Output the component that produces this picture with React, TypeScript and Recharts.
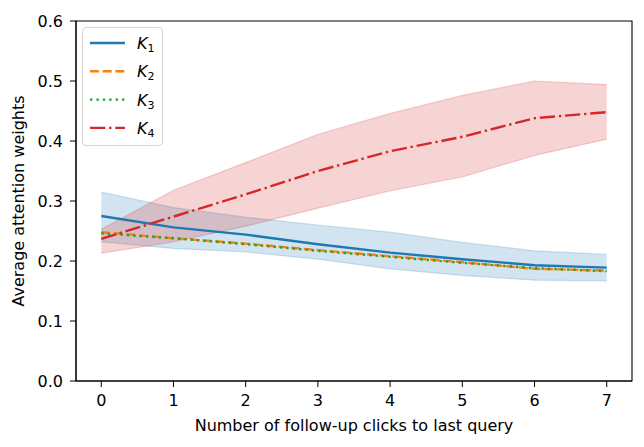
import React from "react";
import {
  ComposedChart,
  Line,
  Area,
  XAxis,
  YAxis,
  ReferenceArea,
  Label,
} from "recharts";

const clicks = [0, 1, 2, 3, 4, 5, 6, 7];
const yTicks = [0, 0.1, 0.2, 0.3, 0.4, 0.5, 0.6];

const k1Mean = [0.275, 0.256, 0.244, 0.228, 0.214, 0.203, 0.193, 0.189];
const k1Low = [0.232, 0.221, 0.215, 0.203, 0.187, 0.176, 0.168, 0.167];
const k1High = [0.315, 0.289, 0.273, 0.26, 0.248, 0.231, 0.217, 0.211];
const k2Mean = [0.248, 0.238, 0.229, 0.218, 0.208, 0.198, 0.187, 0.184];
const k3Mean = [0.246, 0.238, 0.228, 0.217, 0.207, 0.197, 0.188, 0.183];
const k4Mean = [0.237, 0.274, 0.311, 0.35, 0.383, 0.407, 0.438, 0.448];
const k4Low = [0.213, 0.232, 0.258, 0.288, 0.317, 0.34, 0.376, 0.403];
const k4High = [0.253, 0.318, 0.364, 0.411, 0.446, 0.476, 0.5, 0.494];

const FONT = "'DejaVu Sans', sans-serif";
const FS = 16;
const LW = 2.4;
const BLUE = "#1f77b4";
const ORANGE = "#ff7f0e";
const GREEN = "#2ca02c";
const RED = "#d62728";
const DASHED = "8.9 3.8";
const DOTTED = "2.4 4";
const DASHDOT = "15.3 3.8 2.4 3.8";

const legendItems = [
  { sub: "1", color: BLUE, dash: undefined },
  { sub: "2", color: ORANGE, dash: DASHED },
  { sub: "3", color: GREEN, dash: DOTTED },
  { sub: "4", color: RED, dash: DASHDOT },
];

const data = clicks.map((x, i) => ({
  x,
  k1: k1Mean[i],
  k1Band: [k1Low[i], k1High[i]],
  k2: k2Mean[i],
  k3: k3Mean[i],
  k4: k4Mean[i],
  k4Band: [k4Low[i], k4High[i]],
}));

const tickStyle = { fontSize: FS, fill: "#000", fontFamily: FONT };

export default function App() {
  return (
    <div style={{ position: "absolute", left: 0, top: 0, width: 644, height: 447, background: "#fff" }}>
      <ComposedChart
        width={644}
        height={447}
        data={data}
        margin={{ top: 21, right: 12, bottom: 0, left: 0 }}
      >
        <XAxis
          type="number"
          dataKey="x"
          domain={[-0.35, 7.35]}
          ticks={clicks}
          allowDataOverflow
          height={66}
          stroke="#000"
          tickSize={6}
          tickMargin={8}
          tick={tickStyle}
        >
          <Label
            content={({ viewBox }: any) => (
              <text
                x={viewBox.x + viewBox.width / 2}
                y={431}
                textAnchor="middle"
                fontSize={FS}
                fontFamily={FONT}
                fill="#000"
              >
                Number of follow-up clicks to last query
              </text>
            )}
          />
        </XAxis>
        <YAxis
          type="number"
          domain={[0, 0.6]}
          ticks={yTicks}
          allowDataOverflow
          width={76}
          stroke="#000"
          tickSize={6}
          tickMargin={7}
          tick={tickStyle}
          tickFormatter={(v: number) => v.toFixed(1)}
        >
          <Label
            content={({ viewBox }: any) => {
              const cy = viewBox.y + viewBox.height / 2;
              return (
                <text
                  x={24}
                  y={cy}
                  transform={`rotate(-90, 24, ${cy})`}
                  textAnchor="middle"
                  fontSize={FS}
                  fontFamily={FONT}
                  fill="#000"
                >
                  Average attention weights
                </text>
              );
            }}
          />
        </YAxis>
        <Area
          type="linear"
          dataKey="k1Band"
          fill={BLUE}
          fillOpacity={0.2}
          stroke={BLUE}
          strokeOpacity={0.2}
          strokeWidth={1.2}
          isAnimationActive={false}
          activeDot={false}
        />
        <Area
          type="linear"
          dataKey="k4Band"
          fill={RED}
          fillOpacity={0.2}
          stroke={RED}
          strokeOpacity={0.2}
          strokeWidth={1.2}
          isAnimationActive={false}
          activeDot={false}
        />
        <Line type="linear" dataKey="k1" stroke={BLUE} strokeWidth={LW} dot={false} isAnimationActive={false} />
        <Line type="linear" dataKey="k2" stroke={ORANGE} strokeWidth={LW} strokeDasharray={DASHED} dot={false} isAnimationActive={false} />
        <Line type="linear" dataKey="k3" stroke={GREEN} strokeWidth={LW} strokeDasharray={DOTTED} dot={false} isAnimationActive={false} />
        <Line type="linear" dataKey="k4" stroke={RED} strokeWidth={LW} strokeDasharray={DASHDOT} dot={false} isAnimationActive={false} />
        <ReferenceArea
          x1={-0.35}
          x2={7.35}
          y1={0}
          y2={0.6}
          fill="none"
          stroke="#000"
          strokeWidth={1.1}
          ifOverflow="visible"
        />
      </ComposedChart>
      <div
        style={{
          position: "absolute",
          left: 82,
          top: 27,
          width: 81,
          height: 119,
          border: "1px solid #d5d5d5",
          borderRadius: 4,
          background: "rgba(255,255,255,0.8)",
          boxSizing: "border-box",
        }}
      >
        <svg width={81} height={119}>
          {legendItems.map((it, i) => {
            const y = 15 + i * 28.3;
            return (
              <g key={it.sub}>
                <line
                  x1={7}
                  x2={42}
                  y1={y}
                  y2={y}
                  stroke={it.color}
                  strokeWidth={LW}
                  strokeDasharray={it.dash}
                />
                <text x={54} y={y + 6} fontFamily={FONT} fontSize={FS} fill="#000">
                  <tspan fontStyle="italic">K</tspan>
                  <tspan fontSize={11} dy={3}>{it.sub}</tspan>
                </text>
              </g>
            );
          })}
        </svg>
      </div>
    </div>
  );
}
